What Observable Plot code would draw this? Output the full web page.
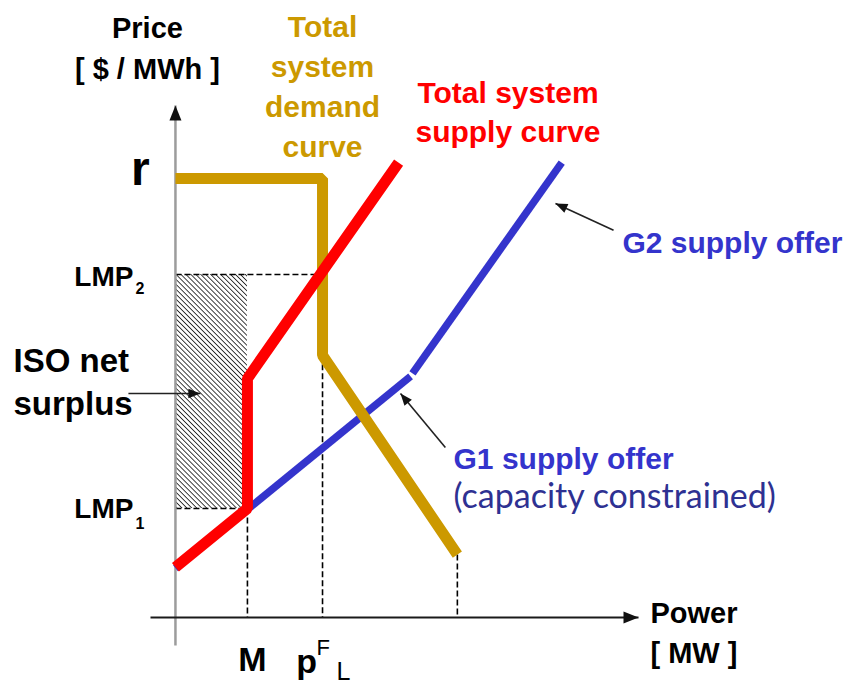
<!DOCTYPE html>
<html>
<head>
<meta charset="utf-8">
<script src="https://cdn.jsdelivr.net/npm/d3@7"></script>
<script src="https://cdn.jsdelivr.net/npm/@observablehq/plot@0.6"></script>
<style>
  html, body { margin: 0; padding: 0; background: #fff; }
</style>
</head>
<body>
<div id="chart"></div>
<script>
// ---------------- data (schematic units: power in MW-units, price in $/MWh-units) -------------
const supplyPower = [0, 30, 30, 93];          // total system supply curve (red)
const supplyPrice = [11.4, 24.8, 54.4, 103.6];
const demandPower = [0, 61.3, 61.3, 117.5];   // total system demand curve (gold)
const demandPrice = [100, 100, 59.7, 14.3];
const g1Power = [0, 98];                      // G1 supply offer (capacity constrained)
const g1Price = [11.2, 54.9];
const g2Power = [98.8, 161];                  // G2 supply offer
const g2Price = [55.6, 103.6];

const M = 30, pFL = 61.3, qEnd = 117.5;       // power marks
const r = 100, LMP1 = 24.8, LMP2 = 78.1;      // price marks
const xExtent = [-10.4, 193];                 // drawn axis extents
const yExtent = [-6.4, 116.6];

// text
const yTitleLines = ["Price", "[ $ / MWh ]"];
const xTitleLines = ["Power", "[ MW ]"];
const demandLabel = ["Total", "system", "demand", "curve"];
const supplyLabel = ["Total system", "supply curve"];
const g2Label = "G2 supply offer";
const g1Label = "G1 supply offer";
const g1Note = "(capacity constrained)";
const surplusLabel = ["ISO net", "surplus"];
const rLabel = "r";
const lmpLabel = "LMP";
const lmpSubs = ["2", "1"];
const mLabel = "M";
const pflParts = ["p", "F", "L"];

// ---------------- helpers ----------------
const pts = (xs, ys) => xs.map((x, i) => ({x, y: ys[i]}));
const SANS = "'Liberation Sans', Arial, Helvetica, sans-serif";
const GOLD = "#cc9900", RED = "#ff0000", BLUE = "#3434cc", NAVY = "#2e3192";

const common = {
  width: 844, height: 687,
  marginLeft: 150, marginRight: 206, marginTop: 105, marginBottom: 42,
  x: {domain: xExtent, axis: null},
  y: {domain: yExtent, axis: null},
  style: {background: "#fff"}
};
const probe = Plot.plot({...common, marks: []});
const sx = probe.scale("x"), sy = probe.scale("y");

// filled arrow head symbol: tip at origin, pointing up
const headSymbol = {
  draw(ctx, size) {
    const L = Math.sqrt(size / Math.PI), w = L * 0.4;
    ctx.moveTo(0, 0); ctx.lineTo(w, L); ctx.lineTo(-w, L); ctx.closePath();
  }
};
function angleOf(a) {
  const dx = sx.apply(a.x2) - sx.apply(a.x1);
  const dy = sy.apply(a.y2) - sy.apply(a.y1);
  return Math.atan2(dx, -dy) * 180 / Math.PI;
}

// axes and pointer arrows
const yAxisArrow = [{x1: 0, y1: yExtent[0], x2: 0, y2: yExtent[1]}];
const xAxisArrow = [{x1: xExtent[0], y1: 0, x2: xExtent[1], y2: 0}];
const pointerArrows = [
  {x1: 182.6, y1: 88.2, x2: 158.4, y2: 94.3},   // G2
  {x1: 112.5, y1: 38.7, x2: 93.8, y2: 51.0},    // G1
  {x1: -19.6, y1: 51.0, x2: 10.4, y2: 51.0}     // ISO net surplus
];

// dashed guides
const guides = [
  {x1: 0, y1: LMP2, x2: pFL, y2: LMP2},
  {x1: 0, y1: LMP1, x2: M, y2: LMP1},
  {x1: M, y1: LMP1, x2: M, y2: 0},
  {x1: pFL, y1: demandPrice[2], x2: pFL, y2: 0},
  {x1: qEnd, y1: demandPrice[3], x2: qEnd, y2: 0}
];

function txt(text, o) {
  return Plot.text([text], {text: d => d, fontFamily: SANS, fill: "#000", lineAnchor: "bottom", ...o});
}
const seg = {x1: "x1", y1: "y1", x2: "x2", y2: "y2"};

const marks = [
  // hatched ISO net surplus
  Plot.rect([{}], {x1: 0, x2: M, y1: LMP1, y2: LMP2, fill: "url(#hatch)"}),
  // dashed guides
  Plot.link(guides, {...seg, stroke: "#000", strokeWidth: 1.6, strokeDasharray: "6,3"}),
  // axes
  Plot.link(yAxisArrow, {...seg, stroke: "#9c9c9c", strokeWidth: 2.5}),
  Plot.link(xAxisArrow, {...seg, stroke: "#1a1a1a", strokeWidth: 2}),
  Plot.dot(yAxisArrow, {x: "x2", y: "y2", r: 15, symbol: headSymbol, fill: "#111", stroke: "none", rotate: d => angleOf(d)}),
  Plot.dot(xAxisArrow, {x: "x2", y: "y2", r: 15, symbol: headSymbol, fill: "#111", stroke: "none", rotate: d => angleOf(d)}),
  // curves
  Plot.line(pts(g1Power, g1Price), {x: "x", y: "y", stroke: BLUE, strokeWidth: 7.5, strokeLinecap: "butt"}),
  Plot.line(pts(g2Power, g2Price), {x: "x", y: "y", stroke: BLUE, strokeWidth: 7.5, strokeLinecap: "butt"}),
  Plot.line(pts(demandPower, demandPrice), {x: "x", y: "y", stroke: GOLD, strokeWidth: 11, strokeLinecap: "butt", strokeLinejoin: "miter"}),
  Plot.line(pts(supplyPower, supplyPrice), {x: "x", y: "y", stroke: RED, strokeWidth: 11, strokeLinecap: "butt", strokeLinejoin: "miter"}),
  // pointer arrows
  Plot.link(pointerArrows, {...seg, stroke: "#222", strokeWidth: 1.6}),
  Plot.dot(pointerArrows, {x: "x2", y: "y2", r: 12, symbol: headSymbol, fill: "#111", stroke: "none", rotate: d => angleOf(d)}),

  // axis titles
  txt(yTitleLines[0], {x: 0, y: yExtent[1], dx: -28, dy: -68, textAnchor: "middle", fontSize: 29, fontWeight: "bold"}),
  txt(yTitleLines[1], {x: 0, y: yExtent[1], dx: -28, dy: -27, textAnchor: "middle", fontSize: 29, fontWeight: "bold"}),
  txt(xTitleLines[0], {x: xExtent[1], y: 0, dx: 12, dy: 6, textAnchor: "start", fontSize: 29, fontWeight: "bold"}),
  txt(xTitleLines[1], {x: xExtent[1], y: 0, dx: 12, dy: 46, textAnchor: "start", fontSize: 29, fontWeight: "bold"}),

  // price ticks
  txt(rLabel, {x: 0, y: r, dx: -35, dy: 7, textAnchor: "middle", fontSize: 48, fontWeight: "bold"}),
  txt(lmpLabel, {x: 0, y: LMP2, dx: -42, dy: 11, textAnchor: "end", fontSize: 28, fontWeight: "bold"}),
  txt(lmpSubs[0], {x: 0, y: LMP2, dx: -40, dy: 19, textAnchor: "start", fontSize: 16, fontWeight: "bold"}),
  txt(lmpLabel, {x: 0, y: LMP1, dx: -42, dy: 9, textAnchor: "end", fontSize: 28, fontWeight: "bold"}),
  txt(lmpSubs[1], {x: 0, y: LMP1, dx: -40, dy: 20, textAnchor: "start", fontSize: 16, fontWeight: "bold"}),

  // power ticks
  txt(mLabel, {x: M, y: 0, dx: 5, dy: 54, textAnchor: "middle", fontSize: 34, fontWeight: "bold"}),
  txt(pflParts[0], {x: pFL, y: 0, dx: -16, dy: 56, textAnchor: "middle", fontSize: 34, fontWeight: "bold"}),
  txt(pflParts[1], {x: pFL, y: 0, dx: -6, dy: 38, textAnchor: "start", fontSize: 22}),
  txt(pflParts[2], {x: pFL, y: 0, dx: 14, dy: 63, textAnchor: "start", fontSize: 25}),

  // curve labels
  txt(demandLabel.join("\n"), {x: pFL, y: 104.8, textAnchor: "middle", fontSize: 30, fontWeight: "bold", fill: GOLD, lineHeight: 1.34}),
  txt(supplyLabel.join("\n"), {x: 138.6, y: 108.2, textAnchor: "middle", fontSize: 30, fontWeight: "bold", fill: RED, lineHeight: 1.3}),
  txt(g2Label, {x: 186.3, y: 83.1, textAnchor: "start", fontSize: 30, fontWeight: "bold", fill: BLUE}),
  txt(g1Label, {x: 115.9, y: 33.9, textAnchor: "start", fontSize: 30, fontWeight: "bold", fill: BLUE}),
  txt(g1Note, {x: 115.9, y: 24.9, textAnchor: "start", fontSize: 34, fill: NAVY, fontFamily: "Lato, 'Open Sans', sans-serif"}),
  txt(surplusLabel.join("\n"), {x: -67.5, y: 46.2, textAnchor: "start", fontSize: 33, fontWeight: "bold", lineHeight: 1.3})
];

const svg = Plot.plot({...common, marks});

// hatch pattern definition
const ns = "http://www.w3.org/2000/svg";
const defs = document.createElementNS(ns, "defs");
const pat = document.createElementNS(ns, "pattern");
pat.setAttribute("id", "hatch");
pat.setAttribute("patternUnits", "userSpaceOnUse");
pat.setAttribute("width", "3.5");
pat.setAttribute("height", "3.5");
pat.setAttribute("patternTransform", "rotate(-45)");
const ln = document.createElementNS(ns, "line");
ln.setAttribute("x1", "0"); ln.setAttribute("y1", "-1");
ln.setAttribute("x2", "0"); ln.setAttribute("y2", "5");
ln.setAttribute("stroke", "#000");
ln.setAttribute("stroke-width", "1.5");
pat.appendChild(ln);
defs.appendChild(pat);
svg.insertBefore(defs, svg.firstChild);

document.getElementById("chart").appendChild(svg);
</script>
</body>
</html>
